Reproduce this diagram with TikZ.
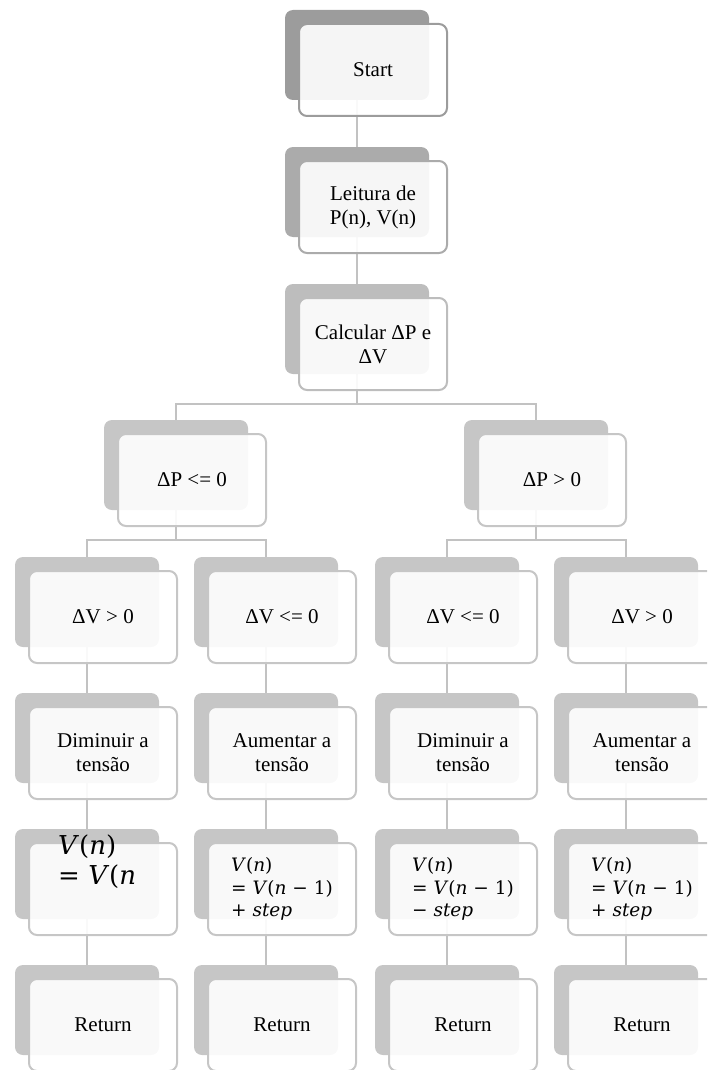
\documentclass[tikz,border=0pt]{standalone}
\usepackage{fontspec}
\setmainfont{Liberation Serif}
\newfontfamily\eqfont{DejaVu Serif}
\usetikzlibrary{backgrounds}
\definecolor{shadeA}{HTML}{9C9C9C}
\definecolor{shadeB}{HTML}{ABABAB}
\definecolor{shadeC}{HTML}{BDBDBD}
\definecolor{shadeD}{HTML}{C6C6C6}
\definecolor{linkgray}{HTML}{C2C2C2}
\newcommand\vv{\textit{V}}
\newcommand\nn{\textit{n}}
% one step of the chart: a shaded card with a translucent card on top
% #1 options of the top card, #2 name, #3 x of the column, #4 top edge, #5 shade, #6 text
\newcommand\tier[6][]{%
  \node[backbox, fill=#5] (#2b) at ({#3-72},{#4}) {};
  \node[frontbox, draw=#5, #1] (#2) at ({#3-58},{#4+14}) {#6};
}
\begin{document}
\begin{tikzpicture}[x=1pt,y=-1pt,
  link/.style={draw=linkgray, line width=2pt},
  backbox/.style={rounded corners=8pt, minimum width=144pt, minimum height=90pt,
    inner sep=0pt, outer sep=0pt, anchor=north west},
  frontbox/.style={rounded corners=8pt, line width=2pt, fill=white, fill opacity=0.9,
    text opacity=1, minimum width=148pt, minimum height=92pt, inner sep=0pt,
    outer sep=0pt, anchor=north west, align=center, font=\fontsize{21}{24}\selectfont},
  eqtext/.style={align=left, font=\eqfont\fontsize{18.5}{22.5}\selectfont},
  eqbig/.style={align=left, anchor=west, inner sep=0pt, font=\eqfont\fontsize{26}{30}\selectfont},
]
\useasboundingbox (0,0) rectangle (707,1070);
\clip (0,0) rectangle (707,1070);

% top chain
\tier{start}{357}{10}{shadeA}{Start}
\tier{read}{357}{147}{shadeB}{Leitura de\\P(n), V(n)}
\tier{calc}{357}{284}{shadeC}{Calcular ΔP e\\ΔV}

% sign of the power change
\tier{dpn}{176}{420}{shadeD}{ΔP <= 0}
\tier{dpp}{536}{420}{shadeD}{ΔP > 0}

% sign of the voltage change
\tier{v1}{87}{557}{shadeD}{ΔV > 0}
\tier{v2}{266}{557}{shadeD}{ΔV <= 0}
\tier{v3}{447}{557}{shadeD}{ΔV <= 0}
\tier{v4}{626}{557}{shadeD}{ΔV > 0}

% action on the voltage
\tier{a1}{87}{693}{shadeD}{Diminuir a\\tensão}
\tier{a2}{266}{693}{shadeD}{Aumentar a\\tensão}
\tier{a3}{447}{693}{shadeD}{Diminuir a\\tensão}
\tier{a4}{626}{693}{shadeD}{Aumentar a\\tensão}

% update rule
\tier{e1}{87}{829}{shadeD}{}
\node[eqbig] (e1t) at (58,862) {\vv(\nn)\\= \vv(\nn};
\tier[eqtext]{e2}{266}{829}{shadeD}{\vv(\nn)\\= \vv(\nn\ − 1)\\+ \textit{step}}
\tier[eqtext]{e3}{447}{829}{shadeD}{\vv(\nn)\\= \vv(\nn\ − 1)\\− \textit{step}}
\tier[eqtext]{e4}{626}{829}{shadeD}{\vv(\nn)\\= \vv(\nn\ − 1)\\+ \textit{step}}

% end
\tier{r1}{87}{965}{shadeD}{Return}
\tier{r2}{266}{965}{shadeD}{Return}
\tier{r3}{447}{965}{shadeD}{Return}
\tier{r4}{626}{965}{shadeD}{Return}

\begin{pgfonlayer}{background}
  \draw[link] (startb.south) -- (readb.north);
  \draw[link] (readb.south) -- (calcb.north);
  \draw[link] (calcb.south) -- ++(0,30) -| (dpnb.north);
  \draw[link] (calcb.south) -- ++(0,30) -| (dppb.north);
  \draw[link] (dpnb.south) -- ++(0,30) -| (v1b.north);
  \draw[link] (dpnb.south) -- ++(0,30) -| (v2b.north);
  \draw[link] (dppb.south) -- ++(0,30) -| (v3b.north);
  \draw[link] (dppb.south) -- ++(0,30) -| (v4b.north);
  \foreach \c in {1,2,3,4}{
    \draw[link] (v\c b.south) -- (a\c b.north);
    \draw[link] (a\c b.south) -- (e\c b.north);
    \draw[link] (e\c b.south) -- (r\c b.north);
  }
\end{pgfonlayer}
\end{tikzpicture}
\end{document}
